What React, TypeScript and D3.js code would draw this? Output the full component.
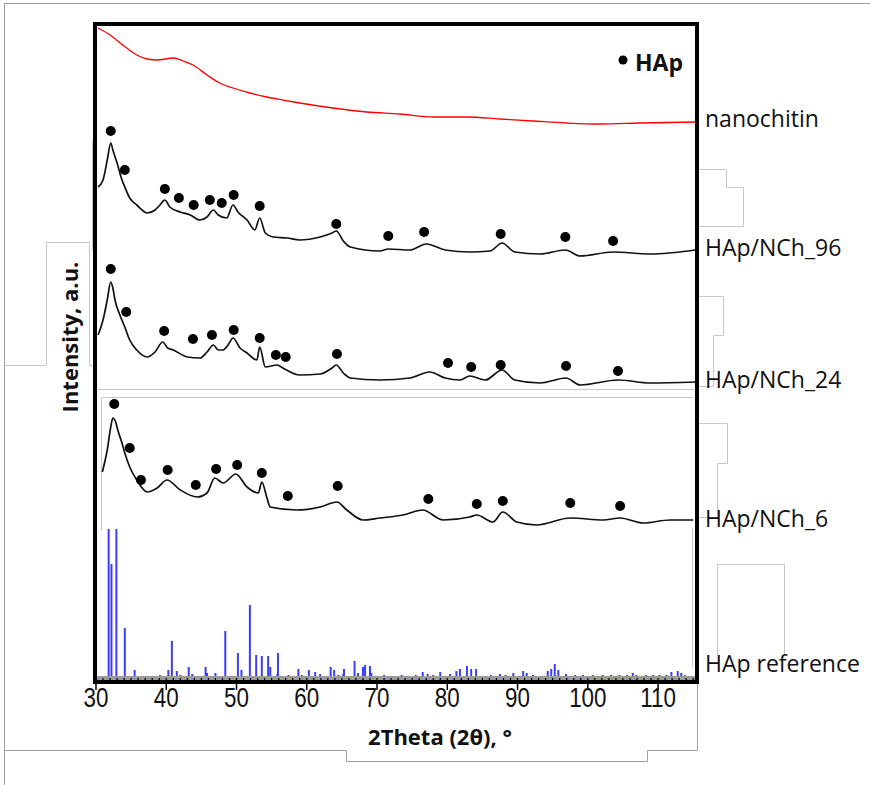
import React from 'react';
import * as d3 from 'd3';

// ---------- data (2θ in degrees, intensity in arbitrary units) ----------
const xTicks = [30, 40, 50, 60, 70, 80, 90, 100, 110];

const nanochitinTheta = [30.3, 32.0, 33.8, 35.8, 37.3, 38.7, 41.0, 42.4, 43.8, 45.8, 47.6, 49.5, 51.9, 54.3, 56.6, 59.0, 63.7, 68.5, 73.2, 78.0, 82.8, 87.5, 92.2, 97.0, 101.7, 107.4, 115.3];
const nanochitinI = [654, 647, 637, 627, 623, 622, 624, 621, 617, 607, 599, 594, 589, 585, 582, 579, 574, 570, 568, 565, 565, 563, 561, 559, 558, 559, 560];

const nch96Theta = [30.3, 31.0, 31.6, 32.1, 32.4, 33.0, 33.7, 34.1, 34.8, 35.8, 37.3, 38.4, 39.1, 39.8, 40.5, 42.0, 43.4, 44.8, 45.8, 46.7, 47.4, 48.6, 49.5, 50.2, 51.5, 52.6, 53.3, 54.1, 55.2, 57.2, 59.0, 61.9, 63.6, 64.2, 65.2, 66.2, 70.4, 71.6, 74.7, 77.0, 79.7, 83.2, 86.1, 87.8, 89.6, 93.2, 96.8, 98.9, 103.6, 108.9, 115.3];
const nch96I = [495, 502, 522, 539, 532, 519, 502, 495, 484, 477, 469, 472, 477, 482, 475, 470, 467, 462, 465, 472, 467, 464, 477, 470, 462, 452, 464, 449, 445, 444, 442, 445, 449, 451, 441, 435, 431, 433, 432, 438, 432, 430, 431, 439, 430, 428, 432, 426, 430, 428, 432];

const nch24Theta = [30.3, 31.0, 31.6, 32.1, 32.4, 32.7, 33.4, 34.1, 34.8, 35.8, 37.3, 38.4, 39.5, 40.2, 41.0, 43.0, 44.8, 45.8, 46.7, 47.4, 48.1, 48.8, 49.5, 50.5, 51.5, 52.9, 53.3, 54.1, 55.8, 56.6, 59.0, 61.9, 63.6, 64.2, 65.2, 66.2, 70.4, 74.7, 77.5, 79.7, 81.8, 83.2, 85.4, 87.8, 89.6, 93.2, 96.9, 98.9, 104.3, 108.9, 115.3];
const nch24I = [347, 362, 382, 400, 394, 382, 367, 355, 342, 332, 325, 330, 340, 334, 332, 325, 324, 330, 337, 332, 332, 337, 344, 334, 329, 322, 335, 315, 317, 314, 307, 308, 314, 317, 309, 304, 302, 304, 310, 304, 302, 306, 302, 312, 302, 299, 304, 297, 302, 299, 300];

const nch6Theta = [30.9, 31.6, 32.1, 32.4, 32.8, 33.1, 33.7, 34.1, 34.8, 35.8, 37.3, 38.7, 40.1, 42.0, 44.4, 45.8, 46.9, 48.1, 49.9, 51.5, 53.1, 53.6, 54.3, 54.8, 58.6, 61.9, 64.3, 65.7, 68.0, 70.4, 73.7, 76.5, 79.4, 83.2, 84.2, 86.5, 87.9, 89.9, 92.7, 97.5, 102.2, 104.6, 107.9, 111.7, 115.0];
const nch6I = [210, 232, 255, 264, 260, 252, 239, 229, 215, 202, 190, 194, 202, 192, 185, 189, 204, 199, 208, 195, 189, 200, 185, 175, 172, 175, 180, 172, 162, 164, 167, 172, 162, 165, 167, 160, 170, 160, 157, 164, 162, 164, 159, 162, 162];

// HAp peak markers
const dots96Theta = [32.1, 34.1, 39.8, 41.8, 43.9, 46.2, 47.9, 49.6, 53.3, 64.2, 71.6, 76.7, 87.6, 96.8, 103.6];
const dots96I = [551, 512, 493, 484, 477, 482, 479, 487, 476, 458, 446, 450, 448, 445, 441];
const dots24Theta = [32.1, 34.3, 39.7, 43.8, 46.5, 49.6, 53.3, 55.6, 57.0, 64.3, 80.1, 83.4, 87.6, 96.9, 104.3];
const dots24I = [413, 370, 351, 343, 347, 352, 344, 327, 325, 328, 319, 315, 317, 316, 311];
const dots6Theta = [32.6, 34.8, 36.4, 40.2, 44.2, 47.1, 50.1, 53.6, 57.3, 64.4, 77.3, 84.2, 87.9, 97.5, 104.6];
const dots6I = [278, 234, 202, 212, 197, 213, 217, 209, 186, 196, 183, 178, 181, 179, 176];

// HAp reference pattern (stick positions and heights)
const refTheta = [31.8, 32.2, 32.9, 34.1, 35.5, 39.1, 40.3, 40.8, 41.5, 42.0, 43.2, 43.7, 45.6, 45.8, 47.0, 48.4, 50.2, 50.7, 51.9, 52.8, 53.6, 54.5, 54.8, 55.8, 55.9, 57.4, 58.8, 59.3, 60.3, 61.2, 61.9, 63.4, 63.9, 64.5, 65.2, 65.3, 66.8, 67.3, 68.0, 68.3, 69.0, 69.2, 71.0, 72.3, 73.5, 74.4, 75.5, 76.5, 77.2, 78.0, 79.0, 80.4, 81.3, 81.8, 82.8, 83.4, 84.1, 86.2, 87.5, 88.3, 89.4, 90.8, 91.3, 92.2, 94.3, 94.8, 95.3, 95.8, 96.9, 98.2, 99.3, 100.7, 102.1, 103.3, 104.5, 105.6, 106.4, 106.9, 108.3, 109.3, 110.2, 111.2, 111.9, 112.8, 113.3, 113.8];
const refI = [148, 113, 148, 49, 7, 2, 7, 36, 6, 2, 10, 3, 10, 4, 4, 46, 24, 7, 72, 22, 21, 21, 10, 3, 24, 2, 8, 2, 7, 5, 3, 10, 7, 2, 3, 8, 16, 4, 10, 12, 11, 4, 2, 1, 2, 1, 2, 5, 3, 2, 5, 3, 6, 8, 11, 8, 8, 2, 3, 2, 4, 6, 4, 2, 6, 8, 13, 7, 3, 2, 2, 2, 2, 2, 2, 2, 4, 2, 2, 2, 2, 2, 5, 6, 4, 2];
const refBase = 5;

const seriesLabels = ['nanochitin', 'HAp/NCh_96', 'HAp/NCh_24', 'HAp/NCh_6', 'HAp reference'];
const labelLevels = [555, 426, 294, 155, 10];

// decorative light-grey outlines present in the source image
const greyPaths = [
  'M5,3.5 L870,3.5',
  'M4.5,3 L4.5,785',
  'M5,750.5 L346.5,750.5 L346.5,761.5 L647.5,761.5 L647.5,750.5 L697.5,750.5 L697.5,684',
  'M5,365.5 L46.5,365.5 L46.5,242.5 L89.5,242.5 L89.5,365.5 L94,365.5',
  'M92.5,140 L92.5,250',
  'M97,389.5 L697,389.5',
  'M101.5,530 L101.5,397.5 L693,397.5',
  'M692.5,528 L692.5,667',
  'M699,169.5 L726.5,169.5 L726.5,187.5 L743.5,187.5 L743.5,226.5 L699,226.5',
  'M699,296.5 L723.5,296.5 L723.5,335.5 L713.5,335.5 L713.5,386.5 L699,386.5',
  'M699,423.5 L727.5,423.5 L727.5,463.5 L717.5,463.5 L717.5,517.5 L699,517.5',
  'M717.5,655 L717.5,564.5 L784.5,564.5 L784.5,655',
];

const zip = (a: number[], b: number[]) => a.map((v, i) => [v, b[i]] as [number, number]);

export default function App() {
  const W = 870;
  const H = 785;
  const x = d3.scaleLinear().domain([30, 115.4]).range([96, 696]);
  const y = d3.scaleLinear().domain([0, 660]).range([682, 22]);
  const line = d3
    .line<[number, number]>()
    .x((d) => x(d[0]))
    .y((d) => y(d[1]))
    .curve(d3.curveMonotoneX);

  const curves = [
    { d: zip(nanochitinTheta, nanochitinI), color: '#ff0000', w: 1.3 },
    { d: zip(nch96Theta, nch96I), color: '#111', w: 1.7 },
    { d: zip(nch24Theta, nch24I), color: '#111', w: 1.7 },
    { d: zip(nch6Theta, nch6I), color: '#111', w: 1.7 },
  ];
  const dots = [
    ...zip(dots96Theta, dots96I),
    ...zip(dots24Theta, dots24I),
    ...zip(dots6Theta, dots6I),
  ];
  const sticks = zip(refTheta, refI);
  const minor = d3.range(30, 115.5, 1);

  return (
    <svg width={W} height={H} style={{ position: 'absolute', left: 0, top: 0, background: '#fff' }}>
      <rect x={0} y={0} width={W} height={H} fill="#fff" />
      {greyPaths.map((p, i) => (
        <path key={i} d={p} fill="none" stroke={i < 3 ? '#a0a0a0' : '#c8c8c8'} strokeWidth={1} />
      ))}

      {/* reference sticks */}
      {sticks.map(([t, v], i) => (
        <line key={i} x1={x(t)} x2={x(t)} y1={y(refBase)} y2={y(refBase + v)} stroke="#3c3cff" strokeWidth={2} />
      ))}
      {/* grey baseline band with dotted minor ticks */}
      <rect x={x(30)} y={y(6)} width={x(115.4) - x(30)} height={y(2) - y(6)} fill="#9a9a9a" />
      {minor.map((t, i) => (
        <line key={i} x1={x(t)} x2={x(t)} y1={y(4)} y2={y(1)} stroke="#000" strokeWidth={1.2} />
      ))}

      {curves.map((c, i) => (
        <path key={i} d={line(c.d) || ''} fill="none" stroke={c.color} strokeWidth={c.w} strokeLinejoin="round" />
      ))}

      {dots.map(([t, v], i) => (
        <circle key={i} cx={x(t)} cy={y(v)} r={5} fill="#000" />
      ))}

      {/* frame */}
      <rect x={95} y={24} width={602} height={658} fill="none" stroke="#000" strokeWidth={4} />

      {/* x ticks */}
      {xTicks.map((t) => (
        <g key={t}>
          <line x1={x(t)} x2={x(t)} y1={684} y2={690} stroke="#000" strokeWidth={1.5} />
          <text
            transform={`translate(${x(t)},707) scale(0.8,1)`}
            textAnchor="middle"
            fontFamily="'Liberation Sans', Arial, sans-serif"
            fontSize={28}
            fill="#111"
          >
            {t}
          </text>
        </g>
      ))}

      <text x={440} y={745} textAnchor="middle" fontFamily="'Open Sans', sans-serif" fontWeight="bold" fontSize={22} fill="#111">
        2Theta (2θ), °
      </text>
      <text
        transform="translate(78,337) rotate(-90)"
        textAnchor="middle"
        fontFamily="'Open Sans', sans-serif"
        fontWeight="bold"
        fontSize={22}
        fill="#111"
      >
        Intensity, a.u.
      </text>

      {/* legend */}
      <circle cx={623} cy={60} r={4.5} fill="#000" />
      <text x={635} y={71} fontFamily="'Open Sans', sans-serif" fontWeight="bold" fontSize={23} fill="#111">
        HAp
      </text>

      {seriesLabels.map((s, i) => (
        <text key={s} x={705} y={y(labelLevels[i])} fontFamily="'Open Sans', sans-serif" fontSize={23} fill="#111">
          {s}
        </text>
      ))}
    </svg>
  );
}
